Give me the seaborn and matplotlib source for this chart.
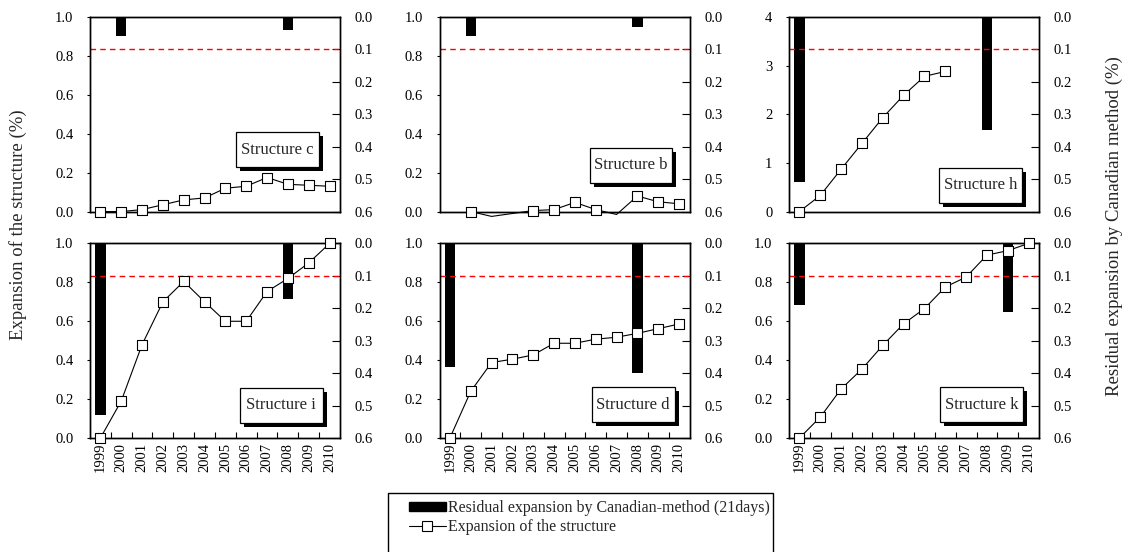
import numpy as np
import pandas as pd
import matplotlib
matplotlib.use("Agg")
import matplotlib.pyplot as plt
import matplotlib.patheffects as pe
from matplotlib.patches import Rectangle, Patch
from matplotlib.lines import Line2D
from matplotlib.ticker import MultipleLocator, FormatStrFormatter
import seaborn as sns

nan = np.nan
years = [str(y) for y in range(1999, 2011)]

# expansion of the structure (%), left axis
exp_c = [0.0, 0.0, 0.01, 0.035, 0.06, 0.07, 0.12, 0.13, 0.175, 0.14, 0.135, 0.13]
exp_b = [nan, 0.0, -0.025, nan, 0.005, 0.01, 0.047, 0.01, -0.015, 0.08, 0.05, 0.04]
exp_h = [0.0, 0.33, 0.87, 1.40, 1.93, 2.39, 2.78, 2.88, nan, nan, nan, nan]
exp_i = [0.0, 0.19, 0.48, 0.70, 0.805, 0.70, 0.60, 0.60, 0.753, 0.82, 0.90, 1.0]
exp_d = [0.0, 0.24, 0.388, 0.405, 0.427, 0.487, 0.487, 0.508, 0.518, 0.538, 0.562, 0.586]
exp_k = [0.0, 0.107, 0.252, 0.354, 0.476, 0.587, 0.665, 0.776, 0.827, 0.94, 0.963, 1.0]

# residual expansion by Canadian method (%), right axis (inverted)
res_c = [nan, 0.06, nan, nan, nan, nan, nan, nan, nan, 0.04, nan, nan]
res_b = [nan, 0.06, nan, nan, nan, nan, nan, nan, nan, 0.03, nan, nan]
res_h = [0.51, nan, nan, nan, nan, nan, nan, nan, nan, 0.35, nan, nan]
res_i = [0.53, nan, nan, nan, nan, nan, nan, nan, nan, 0.17, nan, nan]
res_d = [0.38, nan, nan, nan, nan, nan, nan, nan, nan, 0.40, nan, nan]
res_k = [0.19, nan, nan, nan, nan, nan, nan, nan, nan, nan, 0.21, nan]

names = ["Structure c", "Structure b", "Structure h",
         "Structure i", "Structure d", "Structure k"]
exp_all = [exp_c, exp_b, exp_h, exp_i, exp_d, exp_k]
res_all = [res_c, res_b, res_h, res_i, res_d, res_k]
left_max = [1.0, 1.0, 4.0, 1.0, 1.0, 1.0]
threshold = 0.1

# label box placement (axes fraction: right edge, bottom edge)
box_right = [0.915, 0.93, 0.93, 0.93, 0.94, 0.935]
box_bottom = [0.228, 0.149, 0.046, 0.078, 0.082, 0.082]

sns.set_style("ticks")
plt.rcParams["font.family"] = ["Liberation Serif", "DejaVu Serif"]
plt.rcParams["axes.edgecolor"] = "black"
plt.rcParams["xtick.color"] = "black"
plt.rcParams["ytick.color"] = "black"
plt.rcParams["axes.linewidth"] = 1.0

fig, axes = plt.subplots(2, 3, figsize=(11.3, 5.52), dpi=100)
fig.subplots_adjust(left=90 / 1130, right=1039 / 1130, top=1 - 17 / 552,
                    bottom=1 - 438 / 552, wspace=0.398, hspace=0.164)

pos = np.arange(len(years))

for k, ax in enumerate(axes.flat):
    ax2 = ax.twinx()

    bars = pd.DataFrame({"year": years, "res": res_all[k]}).dropna()
    sns.barplot(data=bars, x="year", y="res", order=years, ax=ax2,
                color="black", saturation=1, width=0.5, linewidth=0)
    ax2.axhline(threshold, color="red", lw=1.0, ls=(0, (4, 3)))
    ax2.set_ylim(0.6, 0.0)
    ax2.yaxis.set_major_locator(MultipleLocator(0.1))
    ax2.yaxis.set_major_formatter(FormatStrFormatter("%.1f"))
    ax2.set_xlabel("")
    ax2.set_ylabel("")
    ax2.tick_params(axis="y", direction="in", length=5.5, width=0.8,
                    pad=10.5, labelsize=10.5)

    line = pd.DataFrame({"pos": pos, "exp": exp_all[k]}).dropna()
    sns.lineplot(data=line, x="pos", y="exp", ax=ax, color="black",
                 linewidth=0.8, errorbar=None, clip_on=False, zorder=3)
    pts = line[line["exp"] >= 0]
    sns.scatterplot(data=pts, x="pos", y="exp", ax=ax, marker="s", s=52,
                    color="white", edgecolor="black", linewidth=0.8,
                    clip_on=False, zorder=4)

    ax.set_zorder(ax2.get_zorder() + 1)
    ax.patch.set_visible(False)

    ax.set_ylim(0, left_max[k])
    if left_max[k] > 1:
        ax.yaxis.set_major_locator(MultipleLocator(1))
        ax.yaxis.set_major_formatter(FormatStrFormatter("%d"))
    else:
        ax.yaxis.set_major_locator(MultipleLocator(0.2))
        ax.yaxis.set_major_formatter(FormatStrFormatter("%.1f"))
    ax.tick_params(axis="y", direction="out", length=2.5, width=0.8,
                   pad=9.5, labelsize=10.5)

    ax.set_xlim(-0.5, len(years) - 0.5)
    ax.set_xticks(pos)
    ax.set_xlabel("")
    ax.set_ylabel("")
    if k >= 3:
        ax.set_xticklabels(years, rotation=90)
        ax.set_xticks(pos[:-1] + 0.5, minor=True)
        ax.tick_params(axis="x", which="major", length=0, pad=3.5,
                       labelsize=10.5)
        ax.tick_params(axis="x", which="minor", direction="in", length=4,
                       width=0.8)
    else:
        ax.set_xticklabels([])
        ax.tick_params(axis="x", which="both", length=0)

    # structure label with drop shadow
    bw, bh = 0.33, 0.18
    x0 = box_right[k] - bw
    y0 = box_bottom[k]
    box = Rectangle((x0, y0), bw, bh, transform=ax.transAxes,
                    facecolor="white", edgecolor="black", lw=0.9,
                    zorder=6, clip_on=False)
    box.set_path_effects([pe.SimplePatchShadow(offset=(3, -3),
                                                shadow_rgbFace="black",
                                                alpha=1.0),
                          pe.Normal()])
    ax.add_patch(box)
    ax.text(x0 + bw / 2, y0 + bh / 2, names[k], transform=ax.transAxes,
            ha="center", va="center", fontsize=12, zorder=7)

fig.text(18 / 1130, 1 - 225 / 552, "Expansion of the structure (%)",
         rotation=90, ha="center", va="center", fontsize=13.5)
fig.text(1114 / 1130, 1 - 226 / 552, "Residual expansion by Canadian method (%)",
         rotation=90, ha="center", va="center", fontsize=13.5)

# legend with frame running off the bottom edge
frame = Rectangle((388 / 1130, 1 - 580 / 552), (773 - 388) / 1130, 87 / 552,
                  transform=fig.transFigure, facecolor="white",
                  edgecolor="black", lw=1.0)
fig.patches.append(frame)
handles = [
    Patch(facecolor="black", edgecolor="black"),
    Line2D([], [], color="black", lw=0.8, marker="s", markersize=7,
           markerfacecolor="white", markeredgecolor="black",
           markeredgewidth=0.8),
]
labels = ["Residual expansion by Canadian-method (21days)",
          "Expansion of the structure"]
fig.legend(handles, labels, loc="upper left",
           bbox_to_anchor=(409 / 1130, 1 - 500 / 552), frameon=False,
           borderpad=0, borderaxespad=0, handlelength=2.3, handleheight=0.5,
           handletextpad=0.15, labelspacing=0.2, fontsize=11.5)

fig.savefig("out.png", dpi=100)
